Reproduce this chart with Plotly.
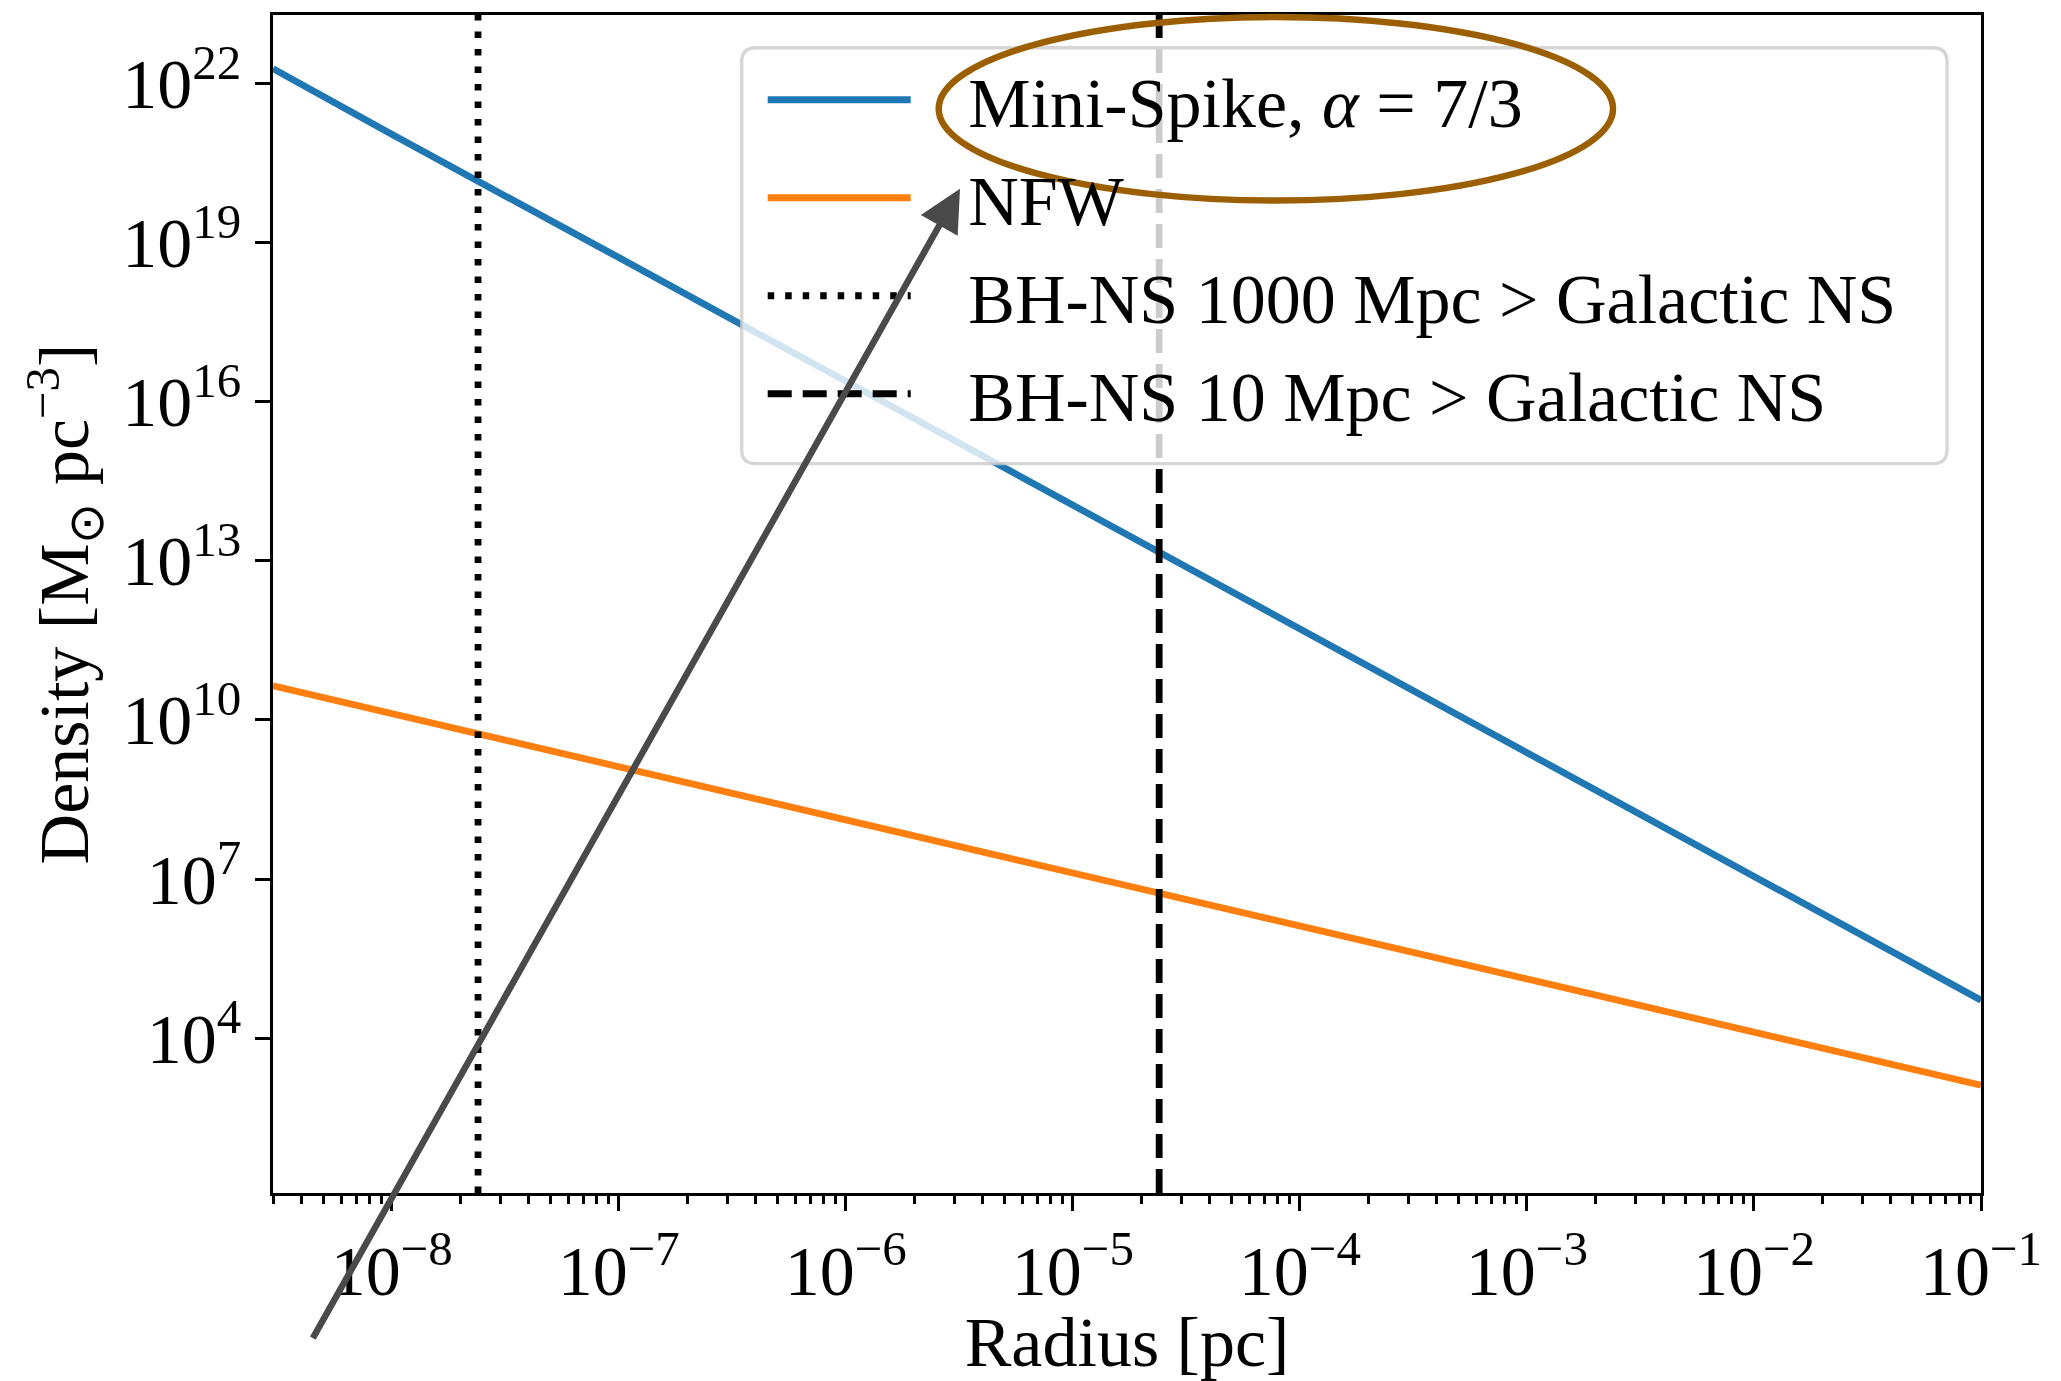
import plotly.graph_objects as go

# ---- data ----
radius = [3e-9, 1e-8, 1e-7, 1e-6, 1e-5, 1e-4, 1e-3, 1e-2, 1e-1]
minispike_density = [1.9e22, 1.1e21, 5.2e18, 2.4e16, 1.1e14, 5.2e11, 2.4e9, 1.1e7, 5.2e4]
nfw_density = [4.4e10, 1.3e10, 1.3e9, 1.3e8, 1.3e7, 1.3e6, 1.3e5, 1.3e4, 1.3e3]

bhns_radius = [2.4e-8, 2.4e-5]
bhns_labels = ["BH-NS 1000 Mpc > Galactic NS", "BH-NS 10 Mpc > Galactic NS"]
bhns_dash = ["6.5px,11px", "24px,11px"]

x_tick_exp = [-8, -7, -6, -5, -4, -3, -2, -1]
y_tick_exp = [4, 7, 10, 13, 16, 19, 22]
x_range_log = [-8.5229, -1.0]
y_range_log = [1.08, 23.29]

FONT = "Liberation Serif"
FS = 70
W, H = 2061, 1381
L, R, T, B = 273, 80, 13, 181
LW = 6.8
PAD = "\u00a0\u00a0\u00a0"  # gap between legend line sample and label

fig = go.Figure()
fig.add_trace(go.Scatter(x=radius, y=minispike_density, mode="lines",
                         line=dict(color="#1f77b4", width=LW), legendgroup="g1",
                         name=PAD + "Mini-Spike, <i>α</i> = 7/3"))
fig.add_trace(go.Scatter(x=radius, y=nfw_density, mode="lines", legendgroup="g2",
                         line=dict(color="#ff7f0e", width=LW), name=PAD + "NFW"))
for i, (xv, lab, dash) in enumerate(zip(bhns_radius, bhns_labels, bhns_dash)):
    fig.add_trace(go.Scatter(x=[xv, xv], y=[0, 1], yaxis="y2", mode="lines",
                             legendgroup=f"g{i + 3}",
                             line=dict(color="black", width=LW, dash=dash),
                             name=PAD + lab))

minor_x = [m * 10.0 ** k for k in range(-9, -1) for m in range(2, 10)
           if 3e-9 * 0.999 <= m * 10.0 ** k <= 0.1]

axis_common = dict(showline=True, linecolor="black", linewidth=3.3, mirror=True,
                   ticks="outside", ticklen=14.6, tickwidth=3.3, tickcolor="black",
                   showgrid=False, zeroline=False,
                   tickfont=dict(family=FONT, size=FS, color="black"))

fig.update_layout(
    width=W, height=H, autosize=False,
    margin=dict(l=L, r=R, t=T, b=B),
    paper_bgcolor="white", plot_bgcolor="white",
    font=dict(family=FONT, size=FS, color="black"),
    xaxis=dict(type="log", range=x_range_log,
               tickmode="array", tickvals=[10.0 ** e for e in x_tick_exp],
               ticktext=[f"10<sup>−{abs(e)}</sup>" for e in x_tick_exp],
               minor=dict(tickmode="array", tickvals=minor_x, ticks="outside",
                          ticklen=8.3, tickwidth=2.5, tickcolor="black", showgrid=False),
               title=dict(text="Radius [pc]", font=dict(family=FONT, size=FS), standoff=10),
               **axis_common),
    yaxis=dict(type="log", range=y_range_log,
               tickmode="array", tickvals=[10.0 ** e for e in y_tick_exp],
               ticktext=[f"10<sup>{e}</sup>" for e in y_tick_exp],
               title=dict(text="Density [M<sub>⊙</sub> pc<sup>−3</sup>]",
                          font=dict(family=FONT, size=FS), standoff=11),
               **axis_common),
    yaxis2=dict(overlaying="y", range=[0, 1], visible=False, fixedrange=True),
    showlegend=True,
    legend=dict(x=(762.7 - L) / (W - L - R), y=0.9722, xanchor="left", yanchor="top",
                bgcolor="rgba(0,0,0,0)", borderwidth=0,
                font=dict(family=FONT, size=FS, color="black"),
                itemwidth=143, tracegroupgap=4),
)

# legend frame (rounded, semi-transparent like matplotlib)
lx0, lx1 = (741.7 - L) / (W - L - R), (1947 - L) / (W - L - R)
ly0, ly1 = (H - B - 465) / (H - T - B), (H - B - 46) / (H - T - B)
rx, ry = 14 / (W - L - R), 14 / (H - T - B)
path = (f"M{lx0 + rx},{ly0} L{lx1 - rx},{ly0} Q{lx1},{ly0} {lx1},{ly0 + ry} "
        f"L{lx1},{ly1 - ry} Q{lx1},{ly1} {lx1 - rx},{ly1} L{lx0 + rx},{ly1} "
        f"Q{lx0},{ly1} {lx0},{ly1 - ry} L{lx0},{ly0 + ry} Q{lx0},{ly0} {lx0 + rx},{ly0} Z")
fig.add_shape(type="path", path=path, xref="paper", yref="paper", layer="above",
              fillcolor="rgba(255,255,255,0.8)", line=dict(color="rgba(204,204,204,0.8)", width=3.3))

# highlight ellipse around the Mini-Spike legend entry
fig.add_shape(type="circle", xref="paper", yref="paper", layer="above",
              x0=(938.7 - L) / (W - L - R), x1=(1613 - L) / (W - L - R),
              y0=(H - B - 200) / (H - T - B), y1=(H - B - 15) / (H - T - B),
              line=dict(color="#9c5f00", width=6.5))

# grey arrow
tip_x, tip_y = 960, 188
tail_x, tail_y = 312, 1339
fig.add_annotation(x=(tip_x - L) / (W - L - R), y=(H - B - tip_y) / (H - T - B),
                   xref="paper", yref="paper", ax=tail_x - tip_x, ay=tail_y - tip_y,
                   axref="pixel", ayref="pixel", text="", showarrow=True,
                   arrowhead=2, arrowsize=1.3, arrowwidth=6.5, arrowcolor="#4a4a4a")

fig.write_html("out.html")
